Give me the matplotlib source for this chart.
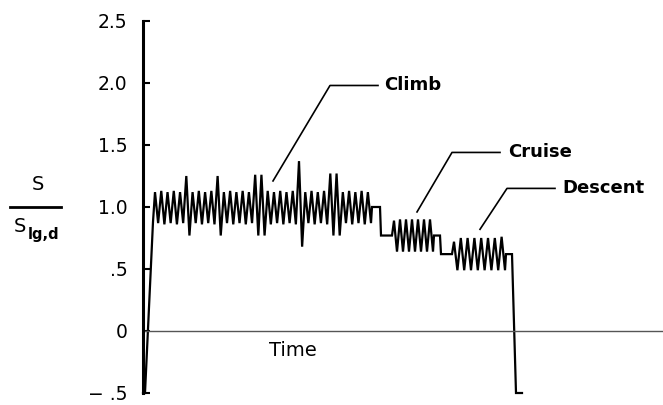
import numpy as np
import matplotlib
matplotlib.use("Agg")
import matplotlib.pyplot as plt
from matplotlib.lines import Line2D

# ----- data (time in arbitrary units, load ratio S/S_lg,d) -----
ytick_values = [-0.5, 0, 0.5, 1.0, 1.5, 2.0, 2.5]
ytick_labels = ["\u2212 .5", "0", ".5", "1.0", "1.5", "2.0", "2.5"]

# take-off: ground level, then rise to climb
start_t = [0, 2, 10]
start_v = [-0.5, -0.5, 0.88]

climb_t_range = (12, 228)
climb_peaks = [1.12, 1.13, 1.12, 1.13, 1.12, 1.25, 1.12, 1.13, 1.12, 1.13,
               1.25, 1.12, 1.13, 1.12, 1.13, 1.12, 1.26, 1.26, 1.13, 1.12,
               1.13, 1.12, 1.13, 1.37, 1.12, 1.13, 1.12, 1.13, 1.27, 1.27,
               1.12, 1.13, 1.12, 1.13, 1.12]
climb_troughs = [0.87, 0.86, 0.87, 0.86, 0.87, 0.77, 0.87, 0.86, 0.87, 0.86,
                 0.77, 0.87, 0.86, 0.87, 0.86, 0.87, 0.77, 0.77, 0.86, 0.87,
                 0.86, 0.87, 0.86, 0.68, 0.87, 0.86, 0.87, 0.86, 0.77, 0.77,
                 0.87, 0.86, 0.87, 0.86, 0.87]

climb_to_cruise_t = [229, 237, 238, 249]
climb_to_cruise_v = [1.0, 1.0, 0.77, 0.77]

cruise_t_range = (251, 290)
cruise_peaks = [0.89, 0.90, 0.90, 0.90, 0.90, 0.90, 0.90]
cruise_troughs = [0.64, 0.64, 0.64, 0.64, 0.64, 0.64, 0.64]

cruise_to_descent_t = [291, 297, 298, 309]
cruise_to_descent_v = [0.77, 0.77, 0.62, 0.62]

descent_t_range = (311, 362)
descent_peaks = [0.72, 0.75, 0.75, 0.75, 0.75, 0.75, 0.75, 0.76]
descent_troughs = [0.49, 0.49, 0.49, 0.49, 0.49, 0.49, 0.49, 0.49]

landing_t = [363, 369, 373, 379]
landing_v = [0.62, 0.62, -0.5, -0.5]


def zigzag(t_range, peaks, troughs):
    vals = np.empty(len(peaks) + len(troughs))
    vals[0::2] = peaks
    vals[1::2] = troughs
    t = np.linspace(t_range[0], t_range[1], len(vals))
    return list(t), list(vals)


ct, cv = zigzag(climb_t_range, climb_peaks, climb_troughs)
rt, rv = zigzag(cruise_t_range, cruise_peaks, cruise_troughs)
dt, dv = zigzag(descent_t_range, descent_peaks, descent_troughs)

time = start_t + ct + climb_to_cruise_t + rt + cruise_to_descent_t + dt + landing_t
load = start_v + cv + climb_to_cruise_v + rv + cruise_to_descent_v + dv + landing_v

# ----- figure -----
W, H = 663, 405
fig = plt.figure(figsize=(W / 100, H / 100), dpi=100)
ax = fig.add_axes([143 / W, 12 / H, 520 / W, 372 / H])

ax.plot(time, load, color="black", lw=1.6, clip_on=False, solid_joinstyle="miter")
ax.axhline(0, color="#555555", lw=1.0)

ax.set_xlim(0, 520)
ax.set_ylim(-0.5, 2.5)
for side in ["top", "right", "bottom"]:
    ax.spines[side].set_visible(False)
ax.spines["left"].set_linewidth(2.2)
ax.set_xticks([])
ax.set_yticks(ytick_values)
ax.set_yticklabels(ytick_labels)
ax.tick_params(axis="y", direction="in", length=5, width=1.5, pad=11,
               labelsize=13.5)
for lab in ax.get_yticklabels():
    lab.set_fontfamily("DejaVu Sans")

# phase labels with leader lines
bold = dict(fontsize=13, fontweight="bold", family="DejaVu Sans", va="center", ha="left")
ax.text(241, 1.98, "Climb", **bold)
ax.plot([130, 187, 235], [1.21, 1.98, 1.98], color="black", lw=1.2)
ax.text(365, 1.44, "Cruise", **bold)
ax.plot([274, 309, 357], [0.96, 1.44, 1.44], color="black", lw=1.2)
ax.text(419, 1.15, "Descent", **bold)
ax.plot([337, 364, 412], [0.82, 1.15, 1.15], color="black", lw=1.2)

ax.text(150, -0.155, "Time", fontsize=14, family="DejaVu Sans", ha="center", va="center")

# y label: S / S_lg,d
fig.text(38 / W, 1 - 185 / H, "S", fontsize=14, ha="center", va="center")
fig.add_artist(Line2D([10 / W, 61 / W], [1 - 207 / H, 1 - 207 / H],
                      color="black", lw=2, transform=fig.transFigure))
fig.text(20 / W, 1 - 226 / H, "S", fontsize=14, ha="center", va="center")
fig.text(44 / W, 1 - 235 / H, "lg,d", fontsize=10.5, fontweight="bold",
         ha="center", va="center")

fig.savefig("out.png", dpi=100)
